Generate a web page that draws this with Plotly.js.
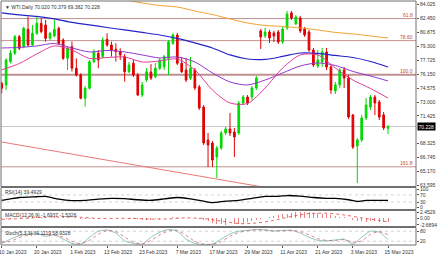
<!DOCTYPE html>
<html><head><meta charset="utf-8">
<script src="https://cdn.plot.ly/plotly-3.0.1.min.js"></script>
<style>html,body{margin:0;padding:0;background:#fff;overflow:hidden}#chart{width:440px;height:254px}</style>
</head><body><div id="chart"></div>
<script>
// ---- data ----
const dates = ['2023-01-10','2023-01-11','2023-01-12','2023-01-13','2023-01-16','2023-01-17','2023-01-18','2023-01-19','2023-01-20','2023-01-23',
'2023-01-24','2023-01-25','2023-01-26','2023-01-27','2023-01-30','2023-01-31','2023-02-01','2023-02-02','2023-02-03','2023-02-06',
'2023-02-07','2023-02-08','2023-02-09','2023-02-10','2023-02-13','2023-02-14','2023-02-15','2023-02-16','2023-02-17','2023-02-20',
'2023-02-21','2023-02-22','2023-02-23','2023-02-24','2023-02-27','2023-02-28','2023-03-01','2023-03-02','2023-03-03','2023-03-06',
'2023-03-07','2023-03-08','2023-03-09','2023-03-10','2023-03-13','2023-03-14','2023-03-15','2023-03-16','2023-03-17','2023-03-20',
'2023-03-21','2023-03-22','2023-03-23','2023-03-24','2023-03-27','2023-03-28','2023-03-29','2023-03-30','2023-03-31','2023-04-03',
'2023-04-04','2023-04-05','2023-04-06','2023-04-10','2023-04-11','2023-04-12','2023-04-13','2023-04-14','2023-04-17','2023-04-18',
'2023-04-19','2023-04-20','2023-04-21','2023-04-24','2023-04-25','2023-04-26','2023-04-27','2023-04-28','2023-05-01','2023-05-02',
'2023-05-03','2023-05-04','2023-05-05','2023-05-08','2023-05-09','2023-05-10','2023-05-11','2023-05-12','2023-05-15'];

const open = [75.13,74.93,77.57,78.52,80.40,79.27,81.23,79.46,80.78,81.91,
81.72,80.21,80.48,81.35,80.03,77.95,79.27,76.82,76.06,73.42,
74.55,77.57,78.52,78.14,80.10,79.46,78.97,78.70,78.13,76.43,
77.39,76.06,73.79,75.49,76.40,75.87,76.82,77.00,77.95,79.65,
80.59,77.39,76.63,75.69,76.63,74.70,72.43,68.70,68.36,66.77,
67.79,69.49,69.94,69.60,69.49,72.89,73.57,73.57,74.59,81.05,
80.48,80.93,80.82,80.93,79.80,81.39,83.09,81.84,82.52,81.27,
80.93,78.89,77.08,77.53,78.67,76.97,74.25,74.93,76.63,75.72,
71.53,68.02,68.70,71.19,72.43,73.57,73.00,71.53,70.020];
const high = [75.30,77.95,78.89,80.59,80.59,81.54,82.67,81.72,82.67,82.48,
82.29,80.97,82.29,81.54,80.21,79.27,79.84,77.95,76.25,74.81,
77.76,78.97,78.89,80.33,80.78,79.84,79.65,79.08,78.44,77.53,
77.76,76.29,75.27,76.85,77.31,77.42,77.99,78.33,80.03,80.82,
80.82,78.10,77.99,78.10,76.85,74.93,72.66,69.49,68.58,68.02,
69.72,70.17,71.76,70.06,73.12,73.79,73.79,74.82,75.95,81.27,
81.39,81.16,81.05,81.16,81.50,83.31,83.31,82.86,82.74,81.50,
81.16,79.12,78.89,79.12,79.12,77.19,75.27,76.85,76.97,76.06,
71.64,68.92,71.53,73.46,73.79,73.79,73.23,71.87,70.379];
const low = [73.98,74.36,77.38,78.33,78.89,79.08,79.27,79.35,80.59,80.78,
79.84,80.03,80.33,79.46,77.76,76.63,76.44,75.87,73.30,72.47,
74.43,77.38,76.82,77.95,79.27,78.14,77.57,77.76,75.30,76.29,
75.83,73.68,73.57,75.27,75.49,75.72,76.63,76.63,76.06,79.46,
77.19,76.29,75.27,75.49,74.36,72.10,68.13,65.63,65.63,64.39,
67.56,69.26,69.15,66.77,69.26,72.66,72.66,73.23,74.36,79.01,
80.25,79.69,79.80,79.57,79.57,81.16,82.29,81.73,80.82,80.37,
78.67,76.97,76.85,76.97,76.63,73.91,73.91,74.59,74.59,71.07,
67.68,63.82,68.47,70.96,72.10,71.53,70.96,69.83,69.382];
const close = [74.55,77.76,78.52,80.40,79.08,81.35,79.46,80.78,81.91,80.97,
80.21,80.78,81.23,79.65,77.95,79.08,76.82,76.06,73.42,74.55,
77.57,78.70,77.76,80.03,79.46,78.89,78.70,78.33,76.43,77.19,
76.06,73.79,74.93,76.43,75.72,76.82,77.76,78.13,79.83,80.59,
77.39,76.43,75.49,76.82,74.59,72.32,68.36,68.13,66.43,67.79,
69.49,69.94,69.49,69.04,72.89,73.57,72.89,74.59,75.72,80.37,
80.93,80.25,80.48,79.80,81.27,82.97,82.52,82.63,81.05,80.59,
78.89,77.19,77.76,78.67,76.97,74.36,74.93,76.63,75.72,71.30,
67.90,68.70,71.19,72.66,73.57,72.89,71.30,70.06,70.228];

// moving averages sampled every 4 bars
const maIdx = [0,4,8,12,16,20,24,28,32,36,40,44,48,52,56,60,64,68,72,76,80,84,88];
const maOrangeIdx = [24,28,32,36,40,44,48,52,56,60,64,68,72,76,80,84,88];
const maOrange = [84.78,84.56,84.22,83.93,83.76,83.31,82.91,82.41,81.95,81.67,81.56,81.39,81.16,80.88,80.71,80.48,80.25];
const maBlue = [83.09,82.86,82.69,82.41,82.01,81.73,81.44,81.16,80.88,80.59,80.20,79.69,79.12,78.33,77.87,77.82,78.16,78.55,78.50,78.27,78.04,77.59,76.97];
const maPurple = [79.12,79.18,79.35,79.63,79.12,78.67,78.84,78.67,78.33,77.99,78.10,77.53,76.29,75.27,74.93,75.49,76.29,77.08,77.42,77.14,76.46,75.95,75.38];
const maMagenta = [76.63,77.36,78.44,79.35,78.89,77.93,78.04,78.10,77.53,77.65,77.87,76.63,74.36,72.89,72.83,74.59,76.85,78.33,78.33,76.85,75.49,74.53,73.45];

// levels and trend line
const fibNames = ['61.8','78.60','100.0','161.8'];
const fibLevels = [82.45,79.95,76.10,65.66];
const trendIdx = [-0.39,58.8];
const trendVal = [68.50,63.43];

// main axis labels
const priceTicks = [84.025,82.450,80.875,79.300,77.725,76.150,74.575,73.000,71.425,68.325,66.745,65.170,63.595];
const tickDates = ['2023-01-10','2023-01-20','2023-02-01','2023-02-13','2023-02-23','2023-03-07','2023-03-17','2023-03-29','2023-04-11','2023-04-21','2023-05-03','2023-05-15'];
const tickLabels = ['10 Jan 2023','20 Jan 2023','1 Feb 2023','13 Feb 2023','23 Feb 2023','7 Mar 2023','17 Mar 2023','29 Mar 2023','11 Apr 2023','21 Apr 2023','3 May 2023','15 May 2023'];

// RSI(14)
const rsiIdx = [0,2,4,7,10,13,16,19,22,25,28,31,34,37,40,43,46,48,51,54,57,60,63,65,68,71,74,76,79,81,83,86,88];
const rsiVal = [39.5,48,55.7,58.6,61.9,46.2,38.1,39.5,46.2,51,49,42.9,40,47.6,55.7,47.6,34.8,27.1,34.8,39.5,51,61.9,61.9,66.7,63.3,55.7,51,51,42.9,33.3,39.5,39.5,39.4929];

// MACD(12,26,9)
const macdMain = [-0.45,-0.35,-0.2,-0.05,0.1,0.25,0.35,0.45,0.55,0.6,
0.62,0.62,0.65,0.6,0.5,0.42,0.25,0.05,-0.25,-0.4,
-0.35,-0.22,-0.18,-0.05,0.02,0.05,0.05,0.0,-0.15,-0.25,
-0.35,-0.55,-0.65,-0.6,-0.6,-0.5,-0.35,-0.15,0.1,0.35,
0.35,0.25,0.1,0.05,-0.1,-0.35,-0.8,-1.3,-1.8,-2.2,
-2.45,-2.6894,-2.6,-2.55,-2.3,-2.0,-1.7,-1.3,-0.9,-0.3,
0.2,0.6,0.95,1.25,1.5,1.85,2.15,2.35,2.4529,2.4,
2.3,2.05,1.9,1.75,1.5,1.1,0.75,0.55,0.35,-0.1,
-0.7,-1.15,-1.35,-1.4,-1.35,-1.35,-1.45,-1.6,-1.6937];
const sigIdx = [0,5,10,14,18,22,26,30,34,38,42,46,50,54,58,62,66,70,74,78,82,86,88];
const sigVal = [-0.5,-0.1,0.4,0.55,0.35,-0.1,-0.1,-0.1,-0.4,-0.3,0.1,-0.15,-1.2,-2.2,-2.0,-0.9,0.7,1.85,2.0,1.3,0.1,-0.95,-1.5326];

// Stochastic(5,3,3)
const stIdx = [0,2,4,6,8,10,12,14,16,18,20,22,24,26,28,30,32,34,36,38,40,42,44,46,48,50,52,54,56,58,60,62,64,66,68,70,72,74,76,78,80,82,84,86,88];
const stK = [8,33,54,64,69,49,59,33,8,3,44,80,87,69,23,8,3,44,74,90,80,33,8,0,3,33,64,80,85,90,87,80,85,85,69,44,26,23,28,33,3,44,80,74,31.1119];
const stD = [15,20,42,57,66,58,55,45,20,6,25,62,84,78,45,15,5,25,58,82,85,55,20,4,2,18,50,72,83,88,88,84,82,85,78,58,36,25,25,30,15,22,62,78,58.9328];

// ---- drawing ----
const FONT = '"Liberation Sans", Arial, sans-serif';
const xi = dates.map((d, i) => i);
const last = close.length - 1;
const fmt = v => v.toFixed(3);

const traces = [
  {type:'candlestick', x:xi, open:open, high:high, low:low, close:close, xaxis:'x', yaxis:'y',
   increasing:{line:{color:'#00d800', width:1}, fillcolor:'#00d800'},
   decreasing:{line:{color:'#e00000', width:1}, fillcolor:'#e00000'},
   whiskerwidth:0, hoverinfo:'skip', showlegend:false},
  {type:'scatter', mode:'lines', x:maOrangeIdx, y:maOrange, line:{color:'#f0a030', width:1, shape:'spline', smoothing:0.8}, hoverinfo:'skip'},
  {type:'scatter', mode:'lines', x:maIdx, y:maBlue, line:{color:'#2424c8', width:1.2, shape:'spline', smoothing:0.8}, hoverinfo:'skip'},
  {type:'scatter', mode:'lines', x:maIdx, y:maPurple, line:{color:'#9038d0', width:1, shape:'spline', smoothing:0.8}, hoverinfo:'skip'},
  {type:'scatter', mode:'lines', x:maIdx, y:maMagenta, line:{color:'#e03c9c', width:1, shape:'spline', smoothing:0.8}, hoverinfo:'skip'},
  {type:'scatter', mode:'lines', x:trendIdx, y:trendVal, line:{color:'#e87878', width:1}, hoverinfo:'skip'},
  {type:'scatter', mode:'lines', x:rsiIdx, y:rsiVal, yaxis:'y2', line:{color:'#000', width:1.3, shape:'spline', smoothing:0.6}, hoverinfo:'skip'},
  {type:'bar', x:xi, y:macdMain, yaxis:'y3', width:0.22, marker:{color:'#e88080', line:{width:0}}, hoverinfo:'skip'},
  {type:'scatter', mode:'lines', x:sigIdx, y:sigVal, yaxis:'y3', line:{color:'#e04040', width:0.8, dash:'dot', shape:'spline', smoothing:0.8}, hoverinfo:'skip'},
  {type:'scatter', mode:'lines', x:stIdx, y:stK, yaxis:'y4', line:{color:'#70b8b0', width:0.8, shape:'spline', smoothing:0.6}, hoverinfo:'skip'},
  {type:'scatter', mode:'lines', x:stIdx, y:stD, yaxis:'y4', line:{color:'#e06060', width:0.8, dash:'dot', shape:'spline', smoothing:0.6}, hoverinfo:'skip'}
];

const yBase = {side:'right', anchor:'x', showgrid:false, zeroline:false, ticks:'outside', ticklen:2, tickcolor:'#555',
  tickfont:{size:5, color:'#333', family:FONT}, fixedrange:true, showline:false};

const shapes = [];
fibLevels.forEach((lv, k) => shapes.push({type:'line', xref:'paper', x0:0, x1:1, yref:'y', y0:lv, y1:lv,
  line:{color:'#c09090', width: fibNames[k] === '100.0' ? 2 : 1}, layer:'below'}));
shapes.push({type:'line', xref:'paper', x0:0, x1:1, yref:'y', y0:close[last], y1:close[last], line:{color:'#c8c8c8', width:1}, layer:'below'});
[[70,'y2'],[30,'y2'],[80,'y4'],[20,'y4']].forEach(([v, ax]) => shapes.push({type:'line', xref:'paper', x0:0, x1:1, yref:ax, y0:v, y1:v,
  line:{color:'#c8c8c8', width:0.8, dash:'dot'}, layer:'below'}));
['y','y2','y3','y4'].forEach(ax => shapes.push({type:'rect', xref:'paper', x0:0, x1:1, yref:ax + ' domain', y0:0, y1:1,
  line:{color:'#707070', width:1}, fillcolor:'rgba(0,0,0,0)'}));

const annotations = [
  {xref:'paper', x:0, xanchor:'left', xshift:2, yref:'y domain', y:1, yanchor:'top', yshift:-1, showarrow:false,
   text:'▼ WTI,Daily ' + fmt(open[last]) + ' ' + fmt(high[last]) + ' ' + fmt(low[last]) + ' ' + fmt(close[last])},
  {xref:'paper', x:0, xanchor:'left', xshift:2, yref:'y2 domain', y:1, yanchor:'top', yshift:0, showarrow:false, text:'RSI(14) ' + rsiVal[rsiVal.length-1].toFixed(4)},
  {xref:'paper', x:0, xanchor:'left', xshift:2, yref:'y3 domain', y:1, yanchor:'top', yshift:0, showarrow:false,
   text:'MACD(12,26,9) ' + macdMain[last].toFixed(4) + ' ' + sigVal[sigVal.length-1].toFixed(4)},
  {xref:'paper', x:0, xanchor:'left', xshift:2, yref:'y4 domain', y:1, yanchor:'top', yshift:0, showarrow:false,
   text:'Stoch(5,3,3) ' + stK[stK.length-1].toFixed(4) + ' ' + stD[stD.length-1].toFixed(4)},
  {xref:'paper', x:1, xanchor:'left', xshift:1, yref:'y', y:close[last], yanchor:'middle', showarrow:false, text:fmt(close[last]),
   bgcolor:'#000', font:{color:'#fff', size:5, family:FONT}, borderpad:0.5}
];
fibLevels.forEach((lv, k) => annotations.push({xref:'paper', x:1, xanchor:'right', xshift:-1, yref:'y', y:lv, yanchor:'bottom', yshift:-1,
  showarrow:false, text:fibNames[k], font:{color:'#c04848', size:5, family:FONT}}));

const layout = {
  width:440, height:254, margin:{l:1, r:24, t:1, b:9},
  paper_bgcolor:'#fff', plot_bgcolor:'#fff', showlegend:false, boxgap:0.45, bargap:0,
  font:{family:FONT, size:5, color:'#333'},
  xaxis:{range:[-0.16, 94.37], anchor:'y4', showgrid:false, zeroline:false, showline:false,
    tickvals: tickDates.map(d => dates.indexOf(d)), ticktext: tickLabels, ticks:'outside', ticklen:2, tickcolor:'#555',
    tickfont:{size:5, color:'#333', family:FONT}, rangeslider:{visible:false}, ticklabelshift:11, ticklabeloverflow:'allow', fixedrange:true},
  yaxis:Object.assign({}, yBase, {domain:[0.2398, 1], range:[63.43, 84.44], tickvals:priceTicks, ticktext:priceTicks.map(fmt)}),
  yaxis2:Object.assign({}, yBase, {domain:[0.1455, 0.2357], range:[-12, 112], tickvals:[100,70,30,0], ticktext:['100','70','30','0']}),
  yaxis3:Object.assign({}, yBase, {domain:[0.0758, 0.1414], range:[-3.4, 3.1], tickvals:[2.4529,0,-2.6894], ticktext:['2.4529','0.00','-2.6894']}),
  yaxis4:Object.assign({}, yBase, {domain:[0, 0.0717], range:[-2, 102], tickvals:[80,20], ticktext:['80','20']}),
  shapes:shapes, annotations:annotations
};

Plotly.newPlot('chart', traces, layout, {staticPlot:true, displayModeBar:false});
</script></body></html>
